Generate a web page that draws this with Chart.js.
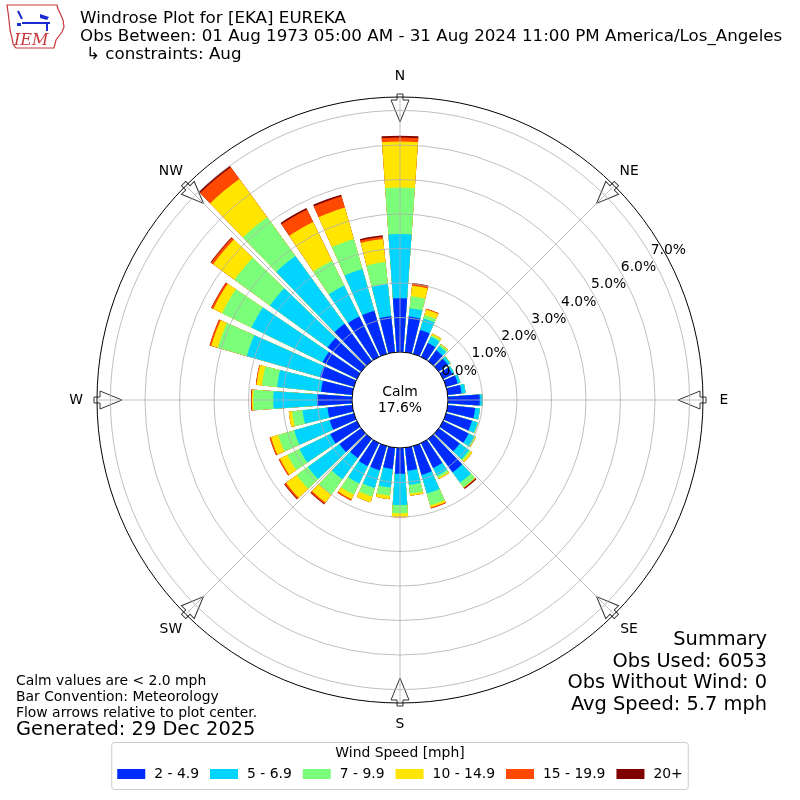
<!DOCTYPE html>
<html>
<head>
<meta charset="utf-8">
<script src="https://cdn.jsdelivr.net/npm/chart.js@4.4.1/dist/chart.umd.min.js"></script>
<style>
  html, body { margin: 0; padding: 0; background: #fff; }
  #wrap { width: 800px; height: 800px; }
</style>
</head>
<body>
<div id="wrap"><canvas id="rose" width="800" height="800"></canvas></div>
<script>
// direction of each bar (degrees, meteorological convention)
const directions = [0, 10, 20, 30, 40, 50, 60, 70, 80, 90, 100, 110, 120, 130, 140, 150, 160, 170,
  180, 190, 200, 210, 220, 230, 240, 250, 260, 270, 280, 290, 300, 310, 320, 330, 340, 350];

const speedBins = ['2 - 4.9', '5 - 6.9', '7 - 9.9', '10 - 14.9', '15 - 19.9', '20+'];
const binColors = ['#002bff', '#00d4ff', '#7bff7b', '#ffe500', '#ff4900', '#800000'];

// frequency (%) per direction for each speed bin
const s2to5 = [1.56, 1.04, 0.72, 0.45, 0.39, 0.33, 0.30, 0.35, 0.40, 0.92, 0.80, 0.78, 0.82, 0.75, 1.20, 0.80, 0.87, 0.67,
  0.75, 0.62, 0.73, 0.74, 0.69, 0.78, 0.86, 0.73, 0.72, 1.02, 0.91, 1.02, 1.10, 1.20, 1.34, 1.30, 1.30, 1.05];
const s5to7 = [1.86, 0.24, 0.35, 0.20, 0.15, 0.08, 0.06, 0.08, 0.12, 0.08, 0.14, 0.17, 0.20, 0.33, 0.37, 0.25, 0.56, 0.41,
  0.90, 0.54, 0.53, 0.56, 0.76, 1.13, 0.99, 1.07, 0.73, 1.26, 1.28, 2.21, 2.30, 2.07, 2.43, 1.00, 1.26, 0.94];
const s7to10 = [1.35, 0.35, 0.11, 0.05, 0.06, 0.02, 0.00, 0.00, 0.00, 0.00, 0.00, 0.02, 0.02, 0.06, 0.17, 0.07, 0.36, 0.26,
  0.24, 0.24, 0.26, 0.36, 0.55, 0.40, 0.39, 0.48, 0.30, 0.58, 0.44, 0.87, 0.95, 1.27, 1.39, 0.80, 0.90, 0.64];
const s10to15 = [1.33, 0.31, 0.16, 0.05, 0.02, 0.00, 0.00, 0.00, 0.00, 0.00, 0.00, 0.00, 0.02, 0.06, 0.01, 0.04, 0.06, 0.06,
  0.12, 0.10, 0.17, 0.15, 0.28, 0.38, 0.24, 0.22, 0.10, 0.04, 0.16, 0.20, 0.28, 0.76, 1.37, 1.25, 0.95, 0.67];
const s15to20 = [0.12, 0.06, 0.02, 0.00, 0.00, 0.00, 0.00, 0.00, 0.00, 0.00, 0.00, 0.00, 0.00, 0.00, 0.02, 0.00, 0.03, 0.00,
  0.00, 0.00, 0.00, 0.04, 0.05, 0.05, 0.04, 0.04, 0.00, 0.02, 0.02, 0.05, 0.06, 0.08, 0.42, 0.40, 0.34, 0.07];
const s20plus = [0.05, 0.02, 0.00, 0.00, 0.00, 0.00, 0.00, 0.00, 0.00, 0.00, 0.00, 0.00, 0.00, 0.00, 0.03, 0.00, 0.00, 0.00,
  0.00, 0.00, 0.00, 0.00, 0.02, 0.02, 0.00, 0.00, 0.00, 0.01, 0.00, 0.00, 0.01, 0.02, 0.05, 0.05, 0.05, 0.04];

const ringTicks = [0, 1, 2, 3, 4, 5, 6, 7];
const compassPoints = ['N', 'NE', 'E', 'SE', 'S', 'SW', 'W', 'NW'];
const calmPct = 17.6;

const titleLines = [
  'Windrose Plot for [EKA] EUREKA',
  'Obs Between: 01 Aug 1973 05:00 AM - 31 Aug 2024 11:00 PM America/Los_Angeles',
  '\u21b3 constraints: Aug'
];
const noteLines = ['Calm values are < 2.0 mph', 'Bar Convention: Meteorology', 'Flow arrows relative to plot center.'];
const generatedText = 'Generated: 29 Dec 2025';
const summaryLines = ['Summary', 'Obs Used: 6053', 'Obs Without Wind: 0', 'Avg Speed: 5.7 mph'];

// polarArea arcs grow from the centre, so stack by drawing cumulative totals (smallest on top)
const seriesByBin = [s2to5, s5to7, s7to10, s10to15, s15to20, s20plus];
const cumulative = seriesByBin.map((_, b) =>
  directions.map((d, i) => seriesByBin.slice(0, b + 1).reduce((acc, s) => acc + s[i], 0)));

const R_MIN = -1.39;  // leaves the calm hole in the middle
const R_MAX = 7.39;
const DEG = Math.PI / 180;
const FONT = "'DejaVu Sans', sans-serif";

function polar(scale, value, deg) {
  const d = scale.getDistanceFromCenterForValue(value);
  return { x: scale.xCenter + d * Math.sin(deg * DEG), y: scale.yCenter - d * Math.cos(deg * DEG) };
}

function drawLogo(ctx) {
  ctx.save();
  ctx.strokeStyle = '#c8383a';
  ctx.lineWidth = 1.2;
  const outline = [[7, 5], [57, 5], [58, 9], [60, 13], [63, 20], [64, 27], [62, 32], [59, 36], [56, 40], [55, 44],
    [54, 48], [16, 48], [13, 44], [12, 38], [10, 30], [9, 20], [8, 12]];
  ctx.beginPath();
  outline.forEach(([x, y], i) => i ? ctx.lineTo(x, y) : ctx.moveTo(x, y));
  ctx.closePath();
  ctx.stroke();
  ctx.strokeStyle = '#1b2bd0';
  ctx.fillStyle = '#1b2bd0';
  ctx.lineWidth = 2;
  ctx.beginPath();
  ctx.moveTo(22, 23); ctx.lineTo(50, 23);
  ctx.moveTo(18, 11); ctx.lineTo(22, 19);
  ctx.moveTo(47, 23); ctx.lineTo(47, 31);
  ctx.stroke();
  ctx.fillRect(17, 23, 4, 3);
  ctx.beginPath();
  ctx.moveTo(40, 14); ctx.lineTo(49, 17); ctx.lineTo(47, 20); ctx.lineTo(40, 18); ctx.closePath();
  ctx.fill();
  ctx.fillStyle = '#c8383a';
  ctx.font = "italic 16px 'DejaVu Serif', serif";
  ctx.textAlign = 'left';
  ctx.textBaseline = 'alphabetic';
  ctx.fillText('IEM', 14, 45);
  ctx.restore();
}

const roseDecor = {
  id: 'roseDecor',
  afterDatasetsUpdate(chart) {
    // 8 degree bars inside 10 degree sectors
    const trim = 1 * DEG;
    chart.data.datasets.forEach((ds, i) => {
      chart.getDatasetMeta(i).data.forEach(arc => {
        arc.startAngle += trim;
        arc.endAngle -= trim;
      });
    });
  },
  afterDatasetsDraw(chart) {
    const ctx = chart.ctx;
    const r = chart.scales.r;
    const cx = r.xCenter, cy = r.yCenter;
    ctx.save();
    ctx.fillStyle = '#fff';
    ctx.beginPath();
    ctx.arc(cx, cy, r.getDistanceFromCenterForValue(0), 0, 2 * Math.PI);
    ctx.fill();
    // flow arrows on the outer ring
    const rOut = r.getDistanceFromCenterForValue(r.max);
    compassPoints.forEach((name, k) => {
      ctx.save();
      ctx.translate(cx, cy);
      ctx.rotate(k * 45 * DEG);
      ctx.beginPath();
      ctx.moveTo(-3, -(rOut + 3));
      ctx.lineTo(3, -(rOut + 3));
      ctx.lineTo(3, -(rOut - 3));
      ctx.lineTo(9, -(rOut - 3));
      ctx.lineTo(0, -(rOut - 25));
      ctx.lineTo(-9, -(rOut - 3));
      ctx.lineTo(-3, -(rOut - 3));
      ctx.closePath();
      ctx.fillStyle = '#fff';
      ctx.fill();
      ctx.strokeStyle = '#333';
      ctx.lineWidth = 1;
      ctx.stroke();
      ctx.restore();
    });
    ctx.restore();
  },
  afterDraw(chart) {
    const ctx = chart.ctx;
    const r = chart.scales.r;
    ctx.save();

    // spokes every 45 degrees
    ctx.strokeStyle = '#b0b0b0';
    ctx.lineWidth = 0.8;
    compassPoints.forEach((name, k) => {
      const a = polar(r, 0, k * 45), b = polar(r, r.max, k * 45);
      ctx.beginPath();
      ctx.moveTo(a.x, a.y);
      ctx.lineTo(b.x, b.y);
      ctx.stroke();
    });

    // compass labels
    ctx.fillStyle = '#000';
    ctx.font = '13.9px ' + FONT;
    ctx.textAlign = 'center';
    ctx.textBaseline = 'middle';
    const rLab = r.max + 21 / (r.drawingArea / (r.max - r.min));
    compassPoints.forEach((name, k) => {
      const p = polar(r, rLab, k * 45);
      ctx.fillText(name, p.x, p.y);
    });

    // ring labels
    ctx.textAlign = 'left';
    ctx.textBaseline = 'bottom';
    ringTicks.forEach(v => {
      const p = polar(r, v, 60);
      ctx.fillText(v.toFixed(1) + '%', p.x, p.y + 2);
    });

    // calm
    ctx.textAlign = 'center';
    ctx.textBaseline = 'middle';
    ctx.fillText('Calm', r.xCenter, r.yCenter - 8);
    ctx.fillText(calmPct.toFixed(1) + '%', r.xCenter, r.yCenter + 8);

    // header
    drawLogo(ctx);
    ctx.textAlign = 'left';
    ctx.font = '16.7px ' + FONT;
    ctx.fillText(titleLines[0], 80, 19);
    ctx.fillText(titleLines[1], 80, 37);
    ctx.fillText(titleLines[2], 86, 55);

    // footnotes
    ctx.font = '13.9px ' + FONT;
    noteLines.forEach((t, i) => ctx.fillText(t, 16, 681 + i * 16));
    ctx.font = '19.4px ' + FONT;
    ctx.fillText(generatedText, 16, 730);

    // summary
    ctx.textAlign = 'right';
    ctx.font = '19.4px ' + FONT;
    summaryLines.forEach((t, i) => ctx.fillText(t, 767, 640 + i * 21.7));

    // legend
    ctx.font = '13.9px ' + FONT;
    const boxW = 28, gapText = 9, gapItem = 11;
    const widths = speedBins.map(t => boxW + gapText + ctx.measureText(t).width);
    const total = widths.reduce((a, b) => a + b, 0) + gapItem * (speedBins.length - 1);
    let x = 400 - total / 2;
    const pad = 5;
    ctx.strokeStyle = '#cccccc';
    ctx.lineWidth = 1;
    ctx.beginPath();
    ctx.roundRect(x - pad - 0.5, 742.5, total + 2 * pad + 1, 47, 3);
    ctx.fillStyle = '#fff';
    ctx.fill();
    ctx.stroke();
    ctx.fillStyle = '#000';
    ctx.textAlign = 'center';
    ctx.fillText('Wind Speed [mph]', 400, 753);
    ctx.textAlign = 'left';
    speedBins.forEach((t, i) => {
      ctx.fillStyle = binColors[i];
      ctx.fillRect(x, 769, boxW, 10);
      ctx.fillStyle = '#000';
      ctx.fillText(t, x + boxW + gapText, 774);
      x += widths[i] + gapItem;
    });

    ctx.restore();
  }
};

new Chart(document.getElementById('rose'), {
  type: 'polarArea',
  data: {
    labels: directions.map(d => d + '\u00b0'),
    datasets: seriesByBin.map((s, b) => ({
      label: speedBins[b],
      data: cumulative[b],
      backgroundColor: binColors[b],
      borderWidth: 0
    }))
  },
  options: {
    responsive: false,
    animation: false,
    events: [],
    layout: { padding: 97 },
    scales: {
      r: {
        min: R_MIN,
        max: R_MAX,
        startAngle: -5,
        afterBuildTicks: scale => {
          scale.ticks = [R_MIN, ...ringTicks, R_MAX].map(v => ({ value: v }));
        },
        ticks: { display: false },
        pointLabels: { display: false },
        angleLines: { display: false },
        grid: {
          z: 1,
          circular: true,
          color: c => {
            const v = c.tick.value;
            if (v < 0) return 'rgba(0,0,0,0)';
            if (v === 0 || v >= R_MAX) return '#000';
            return '#b0b0b0';
          },
          lineWidth: c => (c.tick.value === 0 || c.tick.value >= R_MAX) ? 1 : 0.8
        }
      }
    },
    plugins: {
      legend: { display: false },
      tooltip: { enabled: false }
    }
  },
  plugins: [roseDecor]
});
</script>
</body>
</html>
